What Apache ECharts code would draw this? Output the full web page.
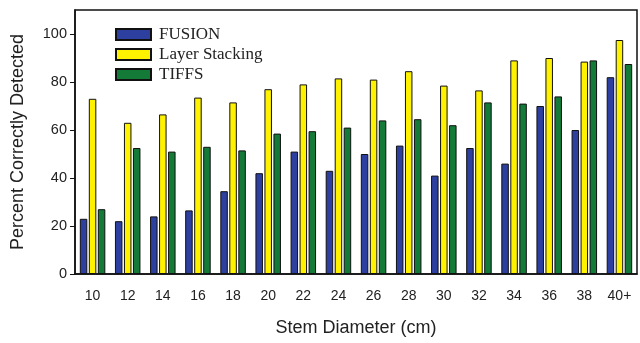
<!DOCTYPE html>
<html><head><meta charset="utf-8">
<script src="https://cdn.jsdelivr.net/npm/echarts@6/dist/echarts.min.js"></script>
<style>html,body{margin:0;padding:0;background:#fff}#c{width:640px;height:343px}</style>
</head><body><div id="c"></div>
<script>
const categories = ['10','12','14','16','18','20','22','24','26','28','30','32','34','36','38','40+'];
const fusion = [23, 22, 24, 26.5, 34.5, 42, 51, 43, 50, 53.5, 41, 52.5, 46, 70, 60, 82];
const layerStacking = [73, 63, 66.5, 73.5, 71.5, 77, 79, 81.5, 81, 84.5, 78.5, 76.5, 89, 90, 88.5, 97.5];
const tiffs = [27, 52.5, 51, 53, 51.5, 58.5, 59.5, 61, 64, 64.5, 62, 71.5, 71, 74, 89, 87.5];
const yTicks = [0, 20, 40, 60, 80, 100];

const chart = echarts.init(document.getElementById('c'), null, {renderer: 'canvas'});
const barCommon = {type: 'bar', barWidth: 7.5, barGap: '20%'};
const border = {borderColor: '#111', borderWidth: 1};
chart.setOption({
  animation: false,
  grid: {left: 75, right: 3, top: 10, bottom: 69, show: true, borderColor: '#111', borderWidth: 1.5},
  legend: {
    orient: 'vertical', left: 115, top: 26, padding: 0, itemWidth: 35, itemHeight: 11, itemGap: 3, icon: 'rect',
    textStyle: {fontFamily: 'Liberation Serif', fontSize: 17, color: '#222', padding: [0, 0, 0, 3]},
    data: ['FUSION', 'Layer Stacking', 'TIFFS']
  },
  xAxis: {
    type: 'category', data: categories,
    axisLine: {lineStyle: {color: '#111', width: 1.5}},
    axisTick: {alignWithLabel: true, length: 5, lineStyle: {color: '#111'}},
    axisLabel: {fontFamily: 'Liberation Sans', fontSize: 14, color: '#222', margin: 15},
    name: 'Stem Diameter (cm)', nameLocation: 'middle', nameGap: 45,
    nameTextStyle: {fontFamily: 'Liberation Sans', fontSize: 18, color: '#222'}
  },
  yAxis: {
    type: 'value', min: 0, max: 110, interval: 20,
    splitLine: {show: false},
    axisLine: {show: true, lineStyle: {color: '#111', width: 1.5}},
    axisTick: {show: true, length: 5, lineStyle: {color: '#111'}, customValues: yTicks},
    axisLabel: {fontFamily: 'Liberation Sans', fontSize: 14.5, color: '#222', margin: 8, customValues: yTicks},
    name: 'Percent Correctly Detected', nameLocation: 'middle', nameGap: 48,
    nameTextStyle: {fontFamily: 'Liberation Sans', fontSize: 18, color: '#222'}
  },
  series: [
    Object.assign({}, barCommon, {name: 'FUSION', data: fusion, itemStyle: Object.assign({color: '#2d3f9f'}, border)}),
    Object.assign({}, barCommon, {name: 'Layer Stacking', data: layerStacking, itemStyle: Object.assign({color: '#fff200'}, border)}),
    Object.assign({}, barCommon, {name: 'TIFFS', data: tiffs, itemStyle: Object.assign({color: '#137a37'}, border)})
  ]
});
</script></body></html>
